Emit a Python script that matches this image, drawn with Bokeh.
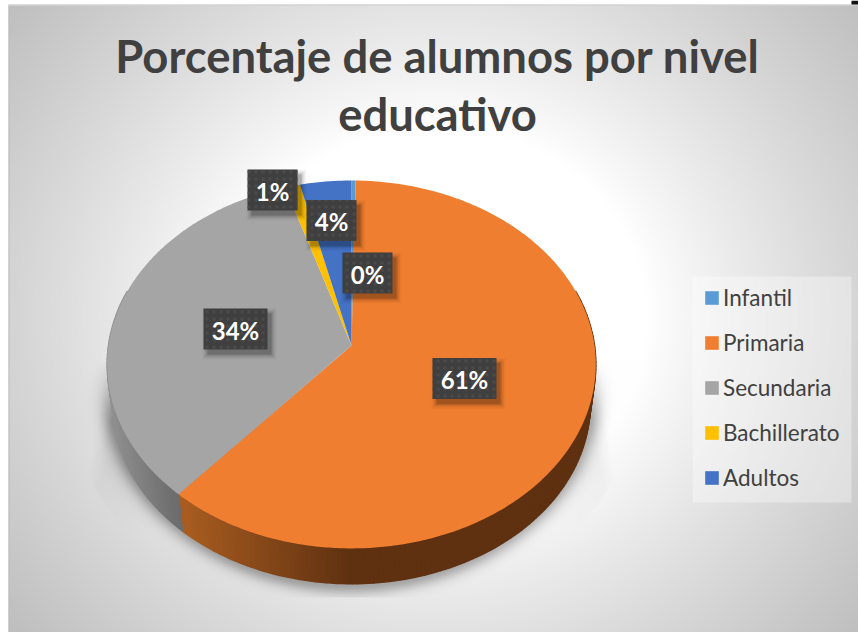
import numpy as np
from bokeh.core.properties import value
from bokeh.embed import file_html
from bokeh.models import Legend, LegendItem, Range1d
from bokeh.plotting import figure
from bokeh.resources import INLINE

# ---- data ----
categories = ["Infantil", "Primaria", "Secundaria", "Bachillerato", "Adultos"]
percent = [0.3, 61.1, 33.75, 1.1, 3.75]
labels = ["0%", "61%", "34%", "1%", "4%"]
colors = ["#5B9BD5", "#F07E30", "#A5A5A5", "#FFC000", "#4472C4"]
title_lines = ["Porcentaje de alumnos por nivel", "educativo"]

# ---- layout (reference pixels) ----
W, H = 858, 632
CHART_L, CHART_T = 8, 5
APEX_X, APEX_Y = 351.0, 345.0
BX, BY, K = 243.0, 182.0, 0.103
WALL_SCALE, WALL_DROP = 0.977, 40.0
LABEL_CENTERS = [(367, 272.5), (464, 378), (235, 328.5), (272, 189.5), (331, 220)]
LABEL_WIDTHS = [50, 64, 64, 50, 50]
LABEL_HEIGHT = 41


def rim(theta):
    """Perspective view of the pie's top disc; theta clockwise from 12 o'clock."""
    s, c = np.sin(theta), np.cos(theta)
    d = 1 + K * c
    return APEX_X + BX * s / d, APEX_Y - BY * c / d


def lower(x, y):
    return APEX_X + WALL_SCALE * (x - APEX_X), APEX_Y + WALL_DROP + WALL_SCALE * (y - APEX_Y)


p = figure(width=W, height=H, output_backend="svg", toolbar_location=None,
           x_range=Range1d(0, W), y_range=Range1d(H, 0), min_border=0)
p.axis.visible = False
p.grid.visible = False
p.outline_line_color = None
p.background_fill_color = "#FFFFFF"

# ---- background: radial gradient plus the soft ground shadow ----
xx, yy = np.meshgrid(np.arange(CHART_L, W) + 0.5, np.arange(CHART_T, H) + 0.5)
rho = np.sqrt(((xx - 437) / 421) ** 2 + ((yy - 316) / 380) ** 2)
t = np.clip((rho - 0.5) / 0.8, 0, 1.1) ** 0.9
v = 255 - 64 * t
erho = np.sqrt(((xx - APEX_X) / 240) ** 2 + ((yy - 386) / 198) ** 2)
dist = np.maximum(erho - 1, 0) * 215
near = np.exp(-(dist / 11) ** 2) * 70
near *= np.clip((yy - 360) / 60, 0, 1) * (yy < 597)
edge_l = 107 - (yy - 360) * 17 / 105
edge_r = 597 + (yy - 360) * 15 / 100
fan = np.clip((xx - edge_l) / 14, 0, 1) * np.clip((edge_r - xx) / 14, 0, 1)
fan *= np.clip((yy - 340) / 70, 0, 1) * np.clip((470 - yy) / 60 + (dist < 40), 0, 1) * (yy < 597)
v = v - near - fan * 20 * np.exp(-dist / 40)
v = np.clip(v, 0, 255).astype(np.uint32)
img = (255 << 24) | (v << 16) | (v << 8) | v
p.image_rgba(image=[img], x=CHART_L, y=CHART_T, dw=W - CHART_L, dh=H - CHART_T)
p.quad(left=CHART_L, right=W, top=CHART_T - 1, bottom=CHART_T, fill_color="#BDBDBD", line_color=None)
p.quad(left=CHART_L, right=CHART_L + 1, top=CHART_T, bottom=H, fill_color="#BDBDBD", line_color=None)
p.quad(left=851, right=W, top=0, bottom=4, fill_color="#111111", line_color=None)

# ---- legend panel ----
p.quad(left=692, right=851, top=276, bottom=502, fill_color="#FFFFFF", fill_alpha=0.35, line_color=None)

# ---- pie ----
frac = np.array(percent) / np.sum(percent)
stops = np.concatenate([[0], np.cumsum(frac)]) * 2 * np.pi


def lerp(a, b, u):
    return "#%02x%02x%02x" % tuple(int(round(a[i] + (b[i] - a[i]) * u)) for i in range(3))


def wall_color(i, x):
    if i == 1:
        u = np.clip((x - 183) / 165, 0, 1)
        return lerp((0xA8, 0x5C, 0x20), (0x5F, 0x31, 0x11), u)
    if i == 2:
        u = np.clip((x - 107) / 76, 0, 1)
        return lerp((0x90, 0x90, 0x90), (0x68, 0x68, 0x68), u)
    return "#444444"


wx, wy, wc = [], [], []
for i in range(len(categories)):
    a, b = stops[i], stops[i + 1]
    a2, b2 = max(a, np.pi * 0.4), min(b, np.pi * 1.6)
    if b2 <= a2:
        continue
    n = max(2, int((b2 - a2) / 0.02))
    th = np.linspace(a2, b2, n + 1)
    for j in range(n):
        x1, y1 = rim(th[j])
        x2, y2 = rim(th[j + 1])
        lx1, ly1 = lower(x1, y1)
        lx2, ly2 = lower(x2, y2)
        wx.append([x1, x2, lx2, lx1])
        wy.append([y1, y2, ly2, ly1])
        wc.append(wall_color(i, 0.5 * (x1 + x2)))
p.patches(wx, wy, fill_color=wc, line_color=wc, line_width=1.5)

renderers = []
for i, name in enumerate(categories):
    th = np.linspace(stops[i], stops[i + 1], max(3, int((stops[i + 1] - stops[i]) / 0.01)))
    rx, ry = rim(th)
    r = p.patch(np.r_[APEX_X, rx], np.r_[APEX_Y, ry], fill_color=colors[i], line_color=None)
    renderers.append(r)

# ---- data labels ----
for (cx, cy), w in zip(LABEL_CENTERS, LABEL_WIDTHS):
    h = LABEL_HEIGHT
    for grow, alpha in [(5, 0.03), (3.5, 0.05), (2, 0.07), (1, 0.09), (0, 0.12)]:
        p.quad(left=cx - w / 2 + 4 - grow, right=cx + w / 2 + 4 + grow,
               top=cy - h / 2 + 5 - grow, bottom=cy + h / 2 + 5 + grow,
               fill_color="#000000", fill_alpha=alpha, line_color=None)
    p.quad(left=cx - w / 2, right=cx + w / 2, top=cy - h / 2, bottom=cy + h / 2,
           fill_color="#3F3F3F", line_color=None,
           hatch_pattern="dot", hatch_color="#4A4A4A", hatch_scale=7, hatch_weight=1.5)

p.text([c[0] for c in LABEL_CENTERS], [c[1] + 1 for c in LABEL_CENTERS], text=labels,
       text_font=value("Lato"), text_font_style="bold", text_font_size="24px",
       text_color="#FFFFFF", text_align="center", text_baseline="middle")

# ---- title ----
p.text([437, 437], [55, 113], text=title_lines, text_font=value("Lato"),
       text_font_style="bold", text_font_size="45.4px", text_color="#404040",
       text_align="center", text_baseline="middle")

# ---- legend ----
legend = Legend(
    items=[LegendItem(label=n, renderers=[r]) for n, r in zip(categories, renderers)],
    location=(703, 141), orientation="vertical", margin=0, padding=0,
    spacing=18, glyph_width=17, glyph_height=17, label_height=27, label_standoff=3,
    label_text_font="Lato", label_text_font_size="22.5px", label_text_color="#404040",
    background_fill_alpha=0, border_line_color=None,
)
p.add_layout(legend, "center")

open("out.html", "w").write(file_html(p, INLINE))
